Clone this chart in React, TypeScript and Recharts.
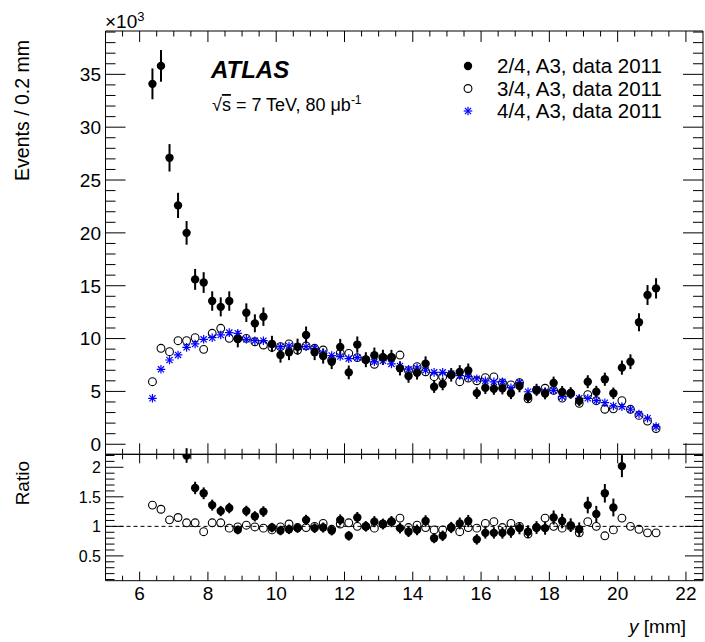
import React from "react";
import { ScatterChart, Scatter, XAxis, YAxis, ErrorBar, ReferenceLine } from "recharts";

// bin centres in mm
const X_POS = [
  6.375, 6.625, 6.875, 7.125, 7.375, 7.625, 7.875, 8.125, 8.375, 8.625,
  8.875, 9.125, 9.375, 9.625, 9.875, 10.125, 10.375, 10.625, 10.875, 11.125,
  11.375, 11.625, 11.875, 12.125, 12.375, 12.625, 12.875, 13.125, 13.375, 13.625,
  13.875, 14.125, 14.375, 14.625, 14.875, 15.125, 15.375, 15.625, 15.875, 16.125,
  16.375, 16.625, 16.875, 17.125, 17.375, 17.625, 17.875, 18.125, 18.375, 18.625,
  18.875, 19.125, 19.375, 19.625, 19.875, 20.125, 20.375, 20.625, 20.875, 21.125,
];

// events (x10^3) per bin
const EVENTS_2OF4 = [
  34.1, 35.8, 27.1, 22.6, 20.0, 15.6, 15.3, 13.55, 13.0, 13.55,
  9.96, 12.45, 11.44, 12.07, 9.49, 8.45, 8.7, 9.23, 10.34, 8.7,
  8.35, 7.81, 9.21, 6.8, 9.43, 8.0, 8.42, 8.22, 8.21, 7.18,
  6.46, 6.77, 7.63, 5.44, 5.71, 6.57, 6.83, 6.98, 4.84, 5.34,
  5.25, 5.3, 4.82, 5.51, 4.5, 5.15, 4.8, 5.8, 4.95, 4.85,
  4.12, 5.92, 4.97, 6.15, 4.82, 7.25, 7.81, 11.54, 14.12, 14.75,
];
const ERR_2OF4 = [
  1.46, 1.5, 1.3, 1.19, 1.12, 0.99, 0.98, 0.92, 0.9, 0.92,
  0.79, 0.88, 0.85, 0.87, 0.77, 0.73, 0.74, 0.76, 0.8, 0.74,
  0.72, 0.7, 0.76, 0.65, 0.77, 0.71, 0.73, 0.72, 0.72, 0.67,
  0.64, 0.65, 0.69, 0.58, 0.6, 0.64, 0.65, 0.66, 0.55, 0.58,
  0.57, 0.58, 0.55, 0.59, 0.53, 0.57, 0.55, 0.6, 0.56, 0.55,
  0.51, 0.61, 0.56, 0.62, 0.55, 0.67, 0.7, 0.85, 0.94, 0.96,
];
const EVENTS_3OF4 = [
  5.92, 9.08, 8.76, 9.8, 9.8, 10.08, 8.98, 10.5, 10.97, 10.02,
  10.0, 10.02, 9.7, 9.39, 9.17, 9.23, 9.49, 8.92, 9.3, 9.08,
  8.92, 7.98, 8.63, 8.59, 8.2, 8.0, 7.57, 8.22, 8.21, 8.44,
  6.96, 7.34, 6.86, 6.39, 6.39, 6.57, 5.92, 6.27, 6.01, 6.3,
  6.37, 5.8, 5.62, 5.83, 4.3, 5.1, 5.3, 5.1, 4.37, 4.8,
  3.87, 4.7, 4.12, 3.31, 3.35, 4.12, 3.31, 2.73, 2.19, 1.49,
];
const EVENTS_4OF4 = [
  4.35, 7.09, 7.97, 8.45, 9.17, 9.49, 9.93, 10.08, 10.34, 10.56,
  10.5, 9.93, 9.8, 9.8, 9.49, 9.23, 9.3, 9.23, 9.23, 9.08,
  8.6, 8.4, 8.3, 8.1, 8.2, 8.0, 7.8, 7.9, 7.6, 7.4,
  7.1, 7.2, 7.0, 6.8, 6.8, 6.7, 6.5, 6.4, 6.2, 6.0,
  5.9, 5.92, 5.35, 5.83, 4.97, 5.2, 4.97, 5.1, 4.5, 4.8,
  4.35, 4.35, 4.12, 3.93, 3.62, 3.56, 3.31, 2.87, 2.46, 1.67,
];

// ratio to 4/4 (null = off scale)
const RATIO_2OF4 = [
  null, null, null, null, 2.2, 1.65, 1.56, 1.36, 1.26, 1.31,
  0.94, 1.26, 1.17, 1.25, 0.98, 0.93, 0.95, 0.97, 1.11, 0.97,
  0.98, 0.93, 1.11, 0.84, 1.15, 1.0, 1.08, 1.04, 1.08, 0.97,
  0.91, 0.94, 1.09, 0.8, 0.84, 0.98, 1.05, 1.09, 0.78, 0.89,
  0.89, 0.89, 0.91, 0.97, 0.91, 0.98, 0.97, 1.15, 1.09, 1.02,
  0.95, 1.36, 1.21, 1.56, 1.32, 2.02, null, null, null, null,
];
const RATIO_3OF4 = [
  1.36, 1.29, 1.11, 1.15, 1.06, 1.06, 0.91, 1.06, 1.06, 0.97,
  0.99, 1.02, 0.99, 0.97, 0.94, 0.99, 1.04, 0.98, 0.98, 1.0,
  1.05, 0.95, 1.04, 1.06, 1.0, 1.0, 0.97, 1.04, 1.08, 1.14,
  0.98, 1.02, 0.98, 0.94, 0.94, 0.98, 0.91, 0.98, 0.97, 1.05,
  1.08, 0.98, 1.05, 1.0, 0.87, 0.98, 1.14, 1.0, 0.97, 1.0,
  0.89, 1.08, 1.0, 0.84, 0.94, 1.14, 1.0, 0.95, 0.89, 0.89,
];

const X_MAJOR = [6, 8, 10, 12, 14, 16, 18, 20, 22];
const Y_MAJOR = [0, 5, 10, 15, 20, 25, 30, 35];
const R_MAJOR = [0.5, 1, 1.5, 2];
const SERIES_LABELS = ["2/4, A3, data 2011", "3/4, A3, data 2011", "4/4, A3, data 2011"];

const X_TICKS: number[] = [];
for (let k = 11; k <= 44; k++) X_TICKS.push(k / 2);
const Y_TICKS: number[] = [];
for (let k = 0; k <= 39; k++) Y_TICKS.push(k);
const R_TICKS: number[] = [];
for (let k = 1; k <= 22; k++) R_TICKS.push(k / 10);

const FONT = "'Liberation Sans', Arial, Helvetica, sans-serif";
const L = 105.5, R = 703, TOP = 31, MID = 454.3, BOT = 580.7;

const upper2 = X_POS.map((x, i) => ({ x, y: EVENTS_2OF4[i], err: ERR_2OF4[i] }));
const upper3 = X_POS.map((x, i) => ({ x, y: EVENTS_3OF4[i] }));
const upper4 = X_POS.map((x, i) => ({ x, y: EVENTS_4OF4[i] }));
const ratio2 = X_POS.map((x, i) => ({ x, y: RATIO_2OF4[i], err: RATIO_2OF4[i] == null ? 0 : (RATIO_2OF4[i] as number) * ERR_2OF4[i] / EVENTS_2OF4[i] }))
  .filter((d) => d.y != null);
const ratio3 = X_POS.map((x, i) => ({ x, y: RATIO_3OF4[i] }));

const Filled = (p: any) => <circle cx={p.cx} cy={p.cy} r={4.2} fill="#000" />;
const Open = (p: any) => <circle cx={p.cx} cy={p.cy} r={3.9} fill="none" stroke="#000" strokeWidth={1.1} />;
const Star = (p: any) => {
  const s = 4.3, d = 3.1;
  return (
    <g stroke="#0000ff" strokeWidth={1.2}>
      <line x1={p.cx - s} x2={p.cx + s} y1={p.cy} y2={p.cy} />
      <line x1={p.cx} x2={p.cx} y1={p.cy - s} y2={p.cy + s} />
      <line x1={p.cx - d} x2={p.cx + d} y1={p.cy - d} y2={p.cy + d} />
      <line x1={p.cx - d} x2={p.cx + d} y1={p.cy + d} y2={p.cy - d} />
    </g>
  );
};

const xTick = (dir: number, major: number, minor: number, labels: boolean) => (props: any) => {
  const { x, y, payload } = props;
  const isMajor = X_MAJOR.includes(payload.value);
  return (
    <g>
      <line x1={x} x2={x} y1={y} y2={y + dir * (isMajor ? major : minor)} stroke="#000" />
      {labels && isMajor && (
        <text x={x} y={y + 19.5} textAnchor="middle" fontSize={19} fontFamily={FONT} fill="#000">
          {payload.value}
        </text>
      )}
    </g>
  );
};

const yTick = (dir: number, majors: number[], major: number, minor: number, labelSize: number) => (props: any) => {
  const { x, y, payload } = props;
  const isMajor = majors.includes(payload.value);
  return (
    <g>
      <line x1={x} x2={x + dir * (isMajor ? major : minor)} y1={y} y2={y} stroke="#000" />
      {labelSize > 0 && isMajor && (
        <text x={x - 4.5} y={y + labelSize * 0.36} textAnchor="end" fontSize={labelSize} fontFamily={FONT} fill="#000">
          {payload.value}
        </text>
      )}
    </g>
  );
};

const abs: React.CSSProperties = { position: "absolute", left: 0, top: 0 };

export default function App() {
  // axes take 1px each, so margins are pulled in by 1 to keep the frame where it belongs
  const axisCommon = { tickSize: 0, tickMargin: 0, tickLine: false, axisLine: { stroke: "#000" }, interval: 0 as const };
  return (
    <div style={{ ...abs, width: 705, height: 642, background: "#fff" }}>
      <div style={abs}>
        <ScatterChart width={705} height={642} margin={{ top: TOP - 1, right: 705 - R - 1, bottom: 642 - MID - 1, left: L - 1 }}>
          <XAxis xAxisId="b" dataKey="x" type="number" domain={[5, 22.5]} allowDataOverflow height={1}
            ticks={X_TICKS} {...axisCommon} tick={xTick(-1, 11, 5.5, false)} />
          <XAxis xAxisId="t" orientation="top" dataKey="x" type="number" domain={[5, 22.5]} allowDataOverflow height={1}
            ticks={X_TICKS} {...axisCommon} tick={xTick(1, 11, 5.5, false)} />
          <YAxis yAxisId="l" dataKey="y" type="number" domain={[-0.95, 39.1]} allowDataOverflow width={1}
            ticks={Y_TICKS} {...axisCommon} tick={yTick(1, Y_MAJOR, 20, 10, 19)} />
          <YAxis yAxisId="r" orientation="right" dataKey="y" type="number" domain={[-0.95, 39.1]} allowDataOverflow width={1}
            ticks={Y_TICKS} {...axisCommon} tick={yTick(-1, Y_MAJOR, 20, 10, 0)} />
          <Scatter data={upper3} xAxisId="b" yAxisId="l" shape={Open} isAnimationActive={false} />
          <Scatter data={upper4} xAxisId="b" yAxisId="l" shape={Star} isAnimationActive={false} />
          <Scatter data={upper2} xAxisId="b" yAxisId="l" shape={Filled} isAnimationActive={false}>
            <ErrorBar dataKey="err" direction="y" width={0} stroke="#000" strokeWidth={2} />
          </Scatter>
        </ScatterChart>
      </div>
      <div style={abs}>
        <ScatterChart width={705} height={642} margin={{ top: MID - 1, right: 705 - R - 1, bottom: 642 - BOT - 1, left: L - 1 }}>
          <XAxis xAxisId="b" dataKey="x" type="number" domain={[5, 22.5]} allowDataOverflow height={1}
            ticks={X_TICKS} {...axisCommon} tick={xTick(-1, 9, 5, true)} />
          <XAxis xAxisId="t" orientation="top" dataKey="x" type="number" domain={[5, 22.5]} allowDataOverflow height={1}
            ticks={X_TICKS} {...axisCommon} tick={xTick(1, 9, 5, false)} />
          <YAxis yAxisId="l" dataKey="y" type="number" domain={[0.08, 2.22]} allowDataOverflow width={1}
            ticks={R_TICKS} {...axisCommon} tick={yTick(1, R_MAJOR, 18, 9, 16)} />
          <YAxis yAxisId="r" orientation="right" dataKey="y" type="number" domain={[0.08, 2.22]} allowDataOverflow width={1}
            ticks={R_TICKS} {...axisCommon} tick={yTick(-1, R_MAJOR, 18, 9, 0)} />
          <ReferenceLine xAxisId="b" yAxisId="l" y={1} stroke="#000" strokeDasharray="4 3" />
          <Scatter data={ratio3} xAxisId="b" yAxisId="l" shape={Open} isAnimationActive={false} />
          <Scatter data={ratio2} xAxisId="b" yAxisId="l" shape={Filled} isAnimationActive={false}>
            <ErrorBar dataKey="err" direction="y" width={0} stroke="#000" strokeWidth={2} />
          </Scatter>
        </ScatterChart>
      </div>
      <svg width={705} height={642} style={{ ...abs, pointerEvents: "none" }} fontFamily={FONT}>
        <text transform="translate(29,40) rotate(-90)" textAnchor="end" fontSize={19.5}>Events / 0.2 mm</text>
        <text transform="translate(29,461) rotate(-90)" textAnchor="end" fontSize={19}>Ratio</text>
        <text x={686} y={633} textAnchor="end" fontSize={19}>
          <tspan fontStyle="italic">y</tspan> [mm]
        </text>
        <text x={105} y={28} fontSize={19}>
          ×10<tspan dy={-7} fontSize={13}>3</tspan>
        </text>
        <text x={211} y={78} fontSize={24} fontWeight="bold" fontStyle="italic">ATLAS</text>
        <text x={212} y={111} fontSize={18}>
          √<tspan textDecoration="overline">s</tspan> = 7 TeV, 80 μb<tspan dy={-7} fontSize={12}>-1</tspan>
        </text>
        {SERIES_LABELS.map((lab, i) => (
          <text key={lab} x={497} y={66 + i * 22.5 + 7} fontSize={20.5}>{lab}</text>
        ))}
        <Filled cx={468} cy={66} />
        <Open cx={468} cy={88.5} />
        <Star cx={468} cy={111} />
      </svg>
    </div>
  );
}
